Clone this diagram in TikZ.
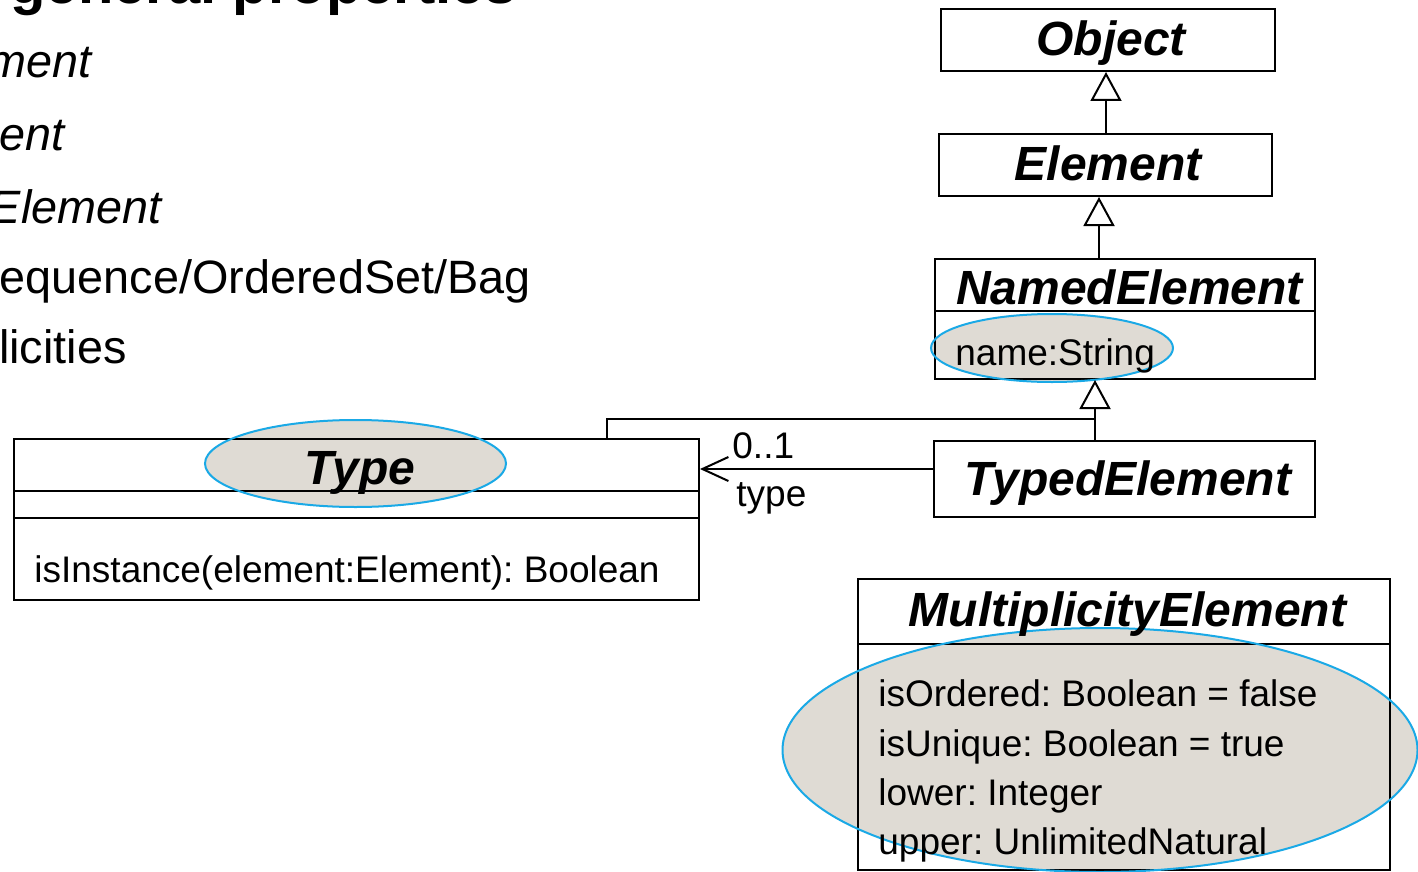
\documentclass[tikz,border=0pt]{standalone}
\usepackage{fontspec}
\setmainfont{Liberation Sans}
\usetikzlibrary{arrows.meta}
\definecolor{hlfill}{HTML}{DFDBD4}
\definecolor{hlline}{HTML}{1AA9E6}
\frenchspacing

\begin{document}
\begin{tikzpicture}[x=0.5pt,y=-0.5pt,
  box/.style={draw=black, line width=1pt, inner sep=0pt, rectangle},
  title/.style={font=\fontsize{24}{28}\selectfont\bfseries\itshape, inner sep=0pt, anchor=base},
  attr/.style={font=\fontsize{18.5}{22}\selectfont, inner sep=0pt, anchor=base west},
  bullet/.style={font=\fontsize{23.4}{28}\selectfont, inner sep=0pt, anchor=base east},
  bulletit/.style={bullet, font=\fontsize{23.4}{28}\selectfont\itshape},
  gen/.style={-{Triangle[open,length=14.5pt,width=15.5pt]}, line width=1pt},
  assoc/.style={-{Straight Barb[length=13pt,width=12pt]}, line width=1pt},
  plain/.style={line width=1pt},
  hlf/.style={fill=hlfill},
  hld/.style={draw=hlline, line width=1pt}
]
\useasboundingbox (0,0) rectangle (1418,872);

% slide text on the left, partly outside the page
\node[font=\fontsize{29}{34}\selectfont\bfseries, inner sep=0pt, anchor=base west] (head) at (10,4) {general properties};
\node[bulletit] (b1) at (92,78) {ment};
\node[bulletit] (b2) at (65,150) {ent};
\node[bulletit] (b3) at (162,223) {Element};
\node[bullet] (b4) at (531,293) {equence/OrderedSet/Bag};
\node[bullet] (b5) at (127,363) {licities};

% highlight fills
\fill[hlf] (355.5,463.5) ellipse [x radius=75.25pt, y radius=21.75pt];
\fill[hlf] (1052,348) ellipse [x radius=60.5pt, y radius=17pt];
\fill[hlf] (1100,750) ellipse [x radius=158.75pt, y radius=61pt];

% class boxes
\node[box, minimum width=167pt, minimum height=31pt] (obj) at (1108,40) {};
\node[box, minimum width=166.5pt, minimum height=31pt] (elem) at (1105.5,165) {};
\node[box, minimum width=190pt, minimum height=60pt] (ne) at (1125,319) {};
\node[box, minimum width=190.5pt, minimum height=38pt] (te) at (1124.5,479) {};
\node[box, minimum width=342.5pt, minimum height=80.5pt] (type) at (356.5,519.5) {};
\node[box, minimum width=266pt, minimum height=145.5pt] (mult) at (1124,724.5) {};

% compartment separators
\draw[plain] ([yshift=-26.5pt]ne.north west) -- ([yshift=-26.5pt]ne.north east);
\draw[plain] ([yshift=-26.5pt]type.north west) -- ([yshift=-26.5pt]type.north east);
\draw[plain] ([yshift=-40pt]type.north west) -- ([yshift=-40pt]type.north east);
\draw[plain] ([yshift=-33pt]mult.north west) -- ([yshift=-33pt]mult.north east);

% highlight outlines
\draw[hld] (355.5,463.5) ellipse [x radius=75.25pt, y radius=21.75pt];
\draw[hld] (1052,348) ellipse [x radius=60.5pt, y radius=17pt];
\draw[hld] (1100,750) ellipse [x radius=158.75pt, y radius=61pt];

% class names
\node[title] (objT) at (1111,56) {Object};
\node[title] (elemT) at (1108,180) {Element};
\node[title] (neT) at (1129.5,304) {NamedElement};
\node[title] (teT) at (1128,495) {TypedElement};
\node[title] (typeT) at (360,484) {Type};
\node[title] (multT) at (1127.5,626) {MultiplicityElement};

% attributes and operations
\node[attr] (neA) at (955,365) {name:String};
\node[attr] (typeO) at (34,582) {isInstance(element:Element): Boolean};
\node[attr] (m1) at (878,706) {isOrdered: Boolean = false};
\node[attr] (m2) at (878,756) {isUnique: Boolean = true};
\node[attr] (m3) at (878,805) {lower: Integer};
\node[attr] (m4) at (878,854) {upper: UnlimitedNatural};

% generalizations
\coordinate (c1) at (1106,0);
\coordinate (c2) at (1099,0);
\coordinate (c3) at (1095,0);
\coordinate (c4) at (607,0);
\coordinate (jn) at (1095,419);
\draw[gen] (elem.north -| c1) -- (obj.south -| c1);
\draw[gen] (ne.north -| c2) -- (elem.south -| c2);
\draw[gen] (te.north -| c3) -- (ne.south -| c3);
\draw[plain] (type.north -| c4) |- (jn);

% association TypedElement -> Type
\coordinate (ar) at (0,469);
\draw[assoc] (te.west |- ar) -- (type.east |- ar);
\node[attr] (mlab) at (732,458) {0..1};
\node[attr] (rlab) at (736,506) {type};
\end{tikzpicture}
\end{document}
